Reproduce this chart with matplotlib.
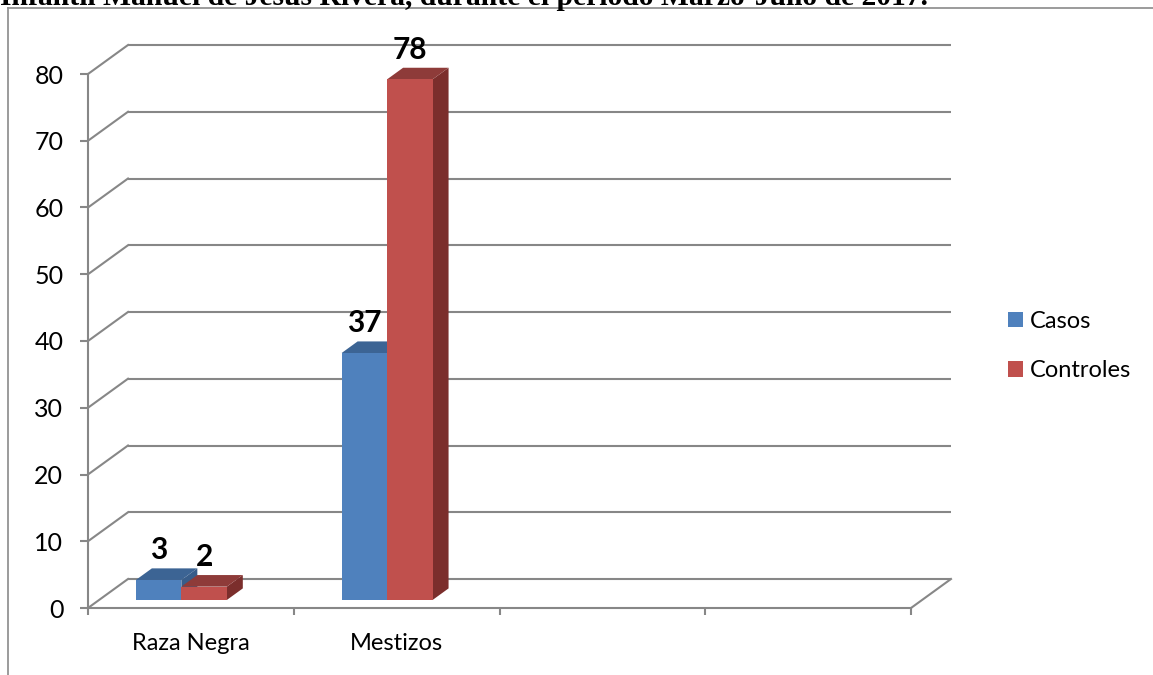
import matplotlib
matplotlib.use('Agg')
import matplotlib.pyplot as plt
from matplotlib.patches import Polygon, Patch
from matplotlib.lines import Line2D

# ---------------- data ----------------
categories = ['Raza Negra', 'Mestizos', '', '']
series_names = ['Casos', 'Controles']
casos = [3, 37, None, None]
controles = [2, 78, None, None]
y_ticks = [0, 10, 20, 30, 40, 50, 60, 70, 80]
title_text = "Infantil Manuel de Jesús Rivera, durante el período Marzo-Julio de 2017."

# ---------------- style ----------------
plt.rcParams['font.family'] = ['Lato', 'DejaVu Sans']
GRID = '#878787'
front_cols = ['#4F81BD', '#C0504D']
top_cols = ['#3C6494', '#8E3B39']
side_cols = ['#385D8A', '#7B2E2C']

W, H = 1153, 675
fig = plt.figure(figsize=(W / 100, H / 100), dpi=100)
ax = fig.add_axes([88 / W, 1 - 608 / H, 823 / W, 534 / H])
ncat = len(categories)
ymax = y_ticks[-1]
ax.set_xlim(0, ncat)
ax.set_ylim(0, ymax)
ax.set_facecolor('none')

# depth offset of the 3D box in data units
DX = 40 / (823 / ncat)
DY = 29 / (534 / ymax)

# back wall gridlines + left wall diagonals
for v in y_ticks:
    ax.plot([DX, ncat + DX], [v + DY, v + DY], color=GRID, lw=1.5, clip_on=False, zorder=1,
            solid_capstyle='butt')
    ax.plot([0, DX], [v, v + DY], color=GRID, lw=1.5, clip_on=False, zorder=1)
# floor right edge
ax.plot([ncat, ncat + DX], [0, DY], color=GRID, lw=1.5, clip_on=False, zorder=1)

# spines / ticks
for s in ['top', 'right']:
    ax.spines[s].set_visible(False)
for s in ['left', 'bottom']:
    ax.spines[s].set_color(GRID)
    ax.spines[s].set_linewidth(1.5)
    ax.spines[s].set_zorder(1)
ax.set_yticks(y_ticks)
ax.set_yticklabels([str(v) for v in y_ticks])
ax.tick_params(axis='y', direction='out', length=5.8, width=1.5, color=GRID, labelsize=18,
               pad=12, labelcolor='black')
ax.set_xticks(range(ncat + 1))
ax.set_xticklabels([])
ax.set_xticks([i + 0.5 for i in range(ncat)], minor=True)
ax.set_xticklabels(categories, minor=True)
ax.tick_params(axis='x', which='major', direction='out', length=5, width=1.5, color=GRID)
ax.tick_params(axis='x', which='minor', length=0, labelsize=17, pad=18)

# bars
f = 0.276   # front face depth fraction
d = 0.40    # bar depth fraction
bw = 0.221  # bar width
series = [casos, controles]
for i in range(ncat):
    center = i + 0.4
    for j, vals in enumerate(series):
        v = vals[i]
        if v is None:
            continue
        xl = center - bw * len(series) / 2 + j * bw
        xr = xl + bw
        fx, fy = f * DX, f * DY
        bx, by = (f + d) * DX, (f + d) * DY
        side = Polygon([(xr + fx, fy), (xr + bx, by), (xr + bx, v + by), (xr + fx, v + fy)],
                       closed=True, facecolor=side_cols[j], edgecolor='none', clip_on=False, zorder=3)
        top = Polygon([(xl + fx, v + fy), (xr + fx, v + fy), (xr + bx, v + by), (xl + bx, v + by)],
                      closed=True, facecolor=top_cols[j], edgecolor='none', clip_on=False, zorder=3)
        front = Polygon([(xl + fx, fy), (xr + fx, fy), (xr + fx, v + fy), (xl + fx, v + fy)],
                        closed=True, facecolor=front_cols[j], edgecolor='none', clip_on=False, zorder=3)
        for p in (side, top, front):
            ax.add_patch(p)
        ax.annotate(str(v), xy=((xl + xr) / 2 + fx, v + by), xytext=(0, 6.5),
                    textcoords='offset points', ha='center', va='baseline',
                    fontsize=21.5, fontweight='bold', annotation_clip=False, zorder=4)

# legend
handles = [Patch(facecolor=c, edgecolor='none') for c in front_cols]
fig.legend(handles, series_names, loc='center left', bbox_to_anchor=(1008 / W, 1 - 346 / H),
           frameon=False, fontsize=17, handlelength=0.64, handleheight=0.64,
           handletextpad=0.3, labelspacing=1.2, borderpad=0, borderaxespad=0)

# page frame lines
fig.add_artist(Line2D([8 / W, 1], [1 - 8 / H, 1 - 8 / H], transform=fig.transFigure,
                      color='#8A8A8A', lw=1.2))
fig.add_artist(Line2D([8 / W, 8 / W], [0, 1 - 8 / H], transform=fig.transFigure,
                      color='#8A8A8A', lw=1.2))

# cropped title text at the very top (cut off by the page edge, as in the source)
t = fig.text(0, 1 - 5 / H, title_text, family=['Liberation Serif', 'DejaVu Serif'],
             fontweight='bold', fontsize=18, ha='left', va='baseline')
r = fig.canvas.get_renderer()
wpx = t.get_window_extent(r).width
t.set_fontsize(18 * 927 / wpx)

fig.savefig('out.png', dpi=100)
